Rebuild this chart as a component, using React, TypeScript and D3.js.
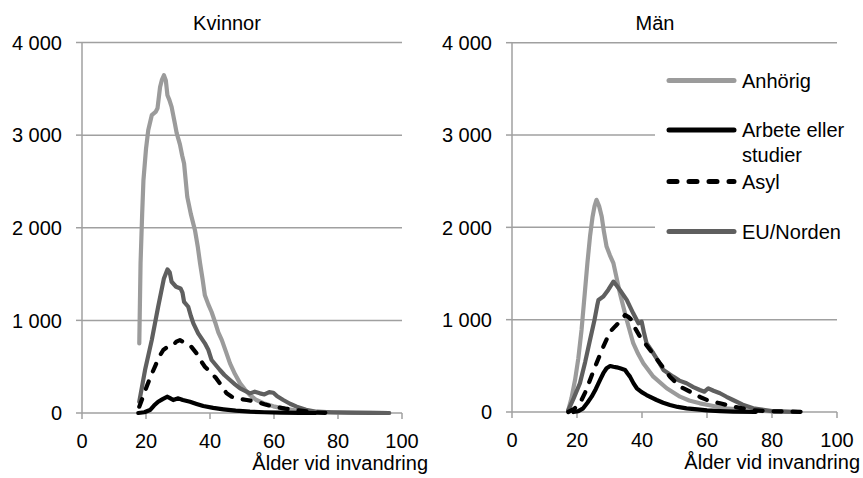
import React from "react";
import * as d3 from "d3";

type Pt = [number, number];

const yTicks = [0, 1000, 2000, 3000, 4000];
const xTicks = [0, 20, 40, 60, 80, 100];
const seriesNames = ["Anhörig", "Arbete eller studier", "Asyl", "EU/Norden"];

// Kvinnor
const womenAnhorig: Pt[] = [
  [17.9, 752], [18.3, 1618], [18.8, 2150], [19.2, 2513], [20.0, 2850], [20.7, 3053], [21.8, 3215], [23.0, 3250],
  [23.6, 3290], [24.4, 3520], [25.0, 3600], [25.6, 3646], [26.2, 3590], [26.7, 3430], [27.3, 3380], [28, 3305],
  [29.0, 3130], [29.6, 3020], [30.6, 2900], [31.3, 2780], [31.9, 2694], [32.9, 2333], [34.0, 2150], [35.3, 1974],
  [36.2, 1790], [36.9, 1615], [37.7, 1440], [38.4, 1270], [39.5, 1170], [40.5, 1090], [41.6, 980], [42.6, 870],
  [43.7, 787], [45.0, 660], [46.25, 536], [47.8, 420], [49.4, 320], [51.0, 250], [52.5, 194], [54.5, 140],
  [56.7, 105], [59.8, 72], [62.9, 50], [66.5, 30], [70.2, 14], [75, 6], [80, 3], [85, 2], [90, 1], [96, 0],
];
const womenArbete: Pt[] = [
  [17.6, 0], [19.5, 8], [21.25, 32], [22.5, 80], [23.8, 122], [25.2, 150], [26.7, 176], [27.5, 160], [28.5, 140],
  [30.1, 158], [31.5, 140], [33.75, 122], [35.8, 98], [37.9, 75], [41, 55], [44.2, 40], [48, 25], [52.5, 14],
  [57, 8], [62, 4], [68, 2], [73, 0],
];
const womenAsyl: Pt[] = [
  [17.9, 68], [19.0, 170], [20.2, 284], [21.5, 400], [22.8, 500], [24.0, 600], [25.4, 680], [27.0, 720], [28.5, 733],
  [29.5, 770], [30.6, 787], [32.0, 760], [33.75, 733], [35.8, 644], [37.0, 570], [38.4, 500], [40.5, 428],
  [41.8, 380], [43.1, 320], [45.2, 212], [46.8, 175], [48.3, 158], [51.5, 140], [54.6, 122], [57.0, 95],
  [59.8, 68], [63.5, 48], [67.1, 32], [73.3, 5], [78, 0],
];
const womenEU: Pt[] = [
  [17.9, 122], [19.7, 464], [21.8, 787], [23.8, 1147], [25.6, 1453], [26.7, 1550], [27.4, 1520], [28, 1417],
  [29.4, 1363], [30.8, 1345], [31.4, 1300], [31.9, 1200], [33.2, 1147], [34.0, 1050], [34.8, 968], [36.3, 860],
  [38.4, 752], [39.5, 680], [40.5, 572], [43.1, 464], [44.5, 410], [46.25, 356], [47.8, 310], [49.4, 266],
  [52.5, 212], [54.0, 230], [55.6, 212], [57.0, 200], [58.5, 225], [59.8, 219], [61.0, 180], [62.9, 140],
  [65.0, 100], [67.1, 68], [70, 35], [73.3, 14], [78, 8], [84, 4], [90, 2], [96, 0],
];

// Män
const menAnhorig: Pt[] = [
  [17.3, 18], [18.3, 150], [19.4, 347], [20.4, 580], [21.4, 889], [22.3, 1250], [23.2, 1612], [24.0, 1900],
  [24.8, 2117], [25.4, 2230], [26, 2298], [26.8, 2230], [27.6, 2117], [28.3, 1950], [29.1, 1792], [30.1, 1700],
  [31.2, 1612], [32.2, 1450], [33.2, 1287], [35.3, 997], [37.3, 745], [38.8, 630], [40.4, 528], [43.5, 383],
  [47.6, 257], [51.7, 166], [54.5, 125], [57.8, 94], [62, 65], [66, 40], [70, 25], [74, 15], [80, 7], [88, 0],
];
const menArbete: Pt[] = [
  [18.9, 0], [20.4, 10], [21.9, 40], [23.2, 100], [24.5, 166], [25.8, 250], [27.1, 347], [28.1, 420],
  [29.1, 474], [30.2, 498], [31.2, 490], [32.2, 484], [33.5, 470], [34.8, 455], [35.5, 420], [36.3, 383],
  [37.4, 310], [38.4, 257], [39.9, 215], [41.4, 184], [44.5, 130], [46.5, 100], [48.6, 76], [51, 55],
  [53.7, 40], [57, 28], [60, 18], [64, 10], [68, 5], [75, 0],
];
const menAsyl: Pt[] = [
  [17.3, 0], [19.0, 30], [20.9, 94], [22.5, 210], [24, 347], [26, 528], [28.1, 708], [30.2, 870], [31.8, 930],
  [33.2, 979], [34.8, 1051], [35.8, 1030], [36.8, 997], [38.0, 900], [39.4, 816], [42.5, 672], [45.5, 528],
  [48.6, 383], [51.7, 274], [55.8, 203], [58.0, 160], [60, 130], [64, 94], [68.1, 58], [74.2, 18], [80, 8],
  [86, 4], [92, 0],
];
const menEU: Pt[] = [
  [17.3, 18], [19.0, 150], [20.9, 311], [22.5, 540], [24, 780], [25.4, 1000], [26.2, 1150], [26.6, 1214],
  [28.1, 1250], [29.6, 1322], [31.2, 1412], [32.2, 1370], [33.2, 1322], [35.3, 1214], [37.3, 1069],
  [38.9, 961], [39.9, 979], [40.6, 860], [41.4, 745], [43.5, 636], [45.0, 550], [46.6, 455], [49.6, 383],
  [51.5, 340], [53.7, 311], [55.8, 270], [57.8, 238], [59.2, 220], [60.4, 257], [62.0, 230], [64, 203],
  [66, 165], [68, 130], [71, 80], [74.2, 40], [80, 10], [84, 5], [88, 0],
];

const colors = ["#9b9b9b", "#000000", "#000000", "#5f5f5f"];
const dashes = ["", "", "8,11", ""];

const FONT = "Liberation Sans, Arial, sans-serif";
const GRID = "#a0a0a0";

function Panel({
  title, titleX, x0, x1, y0, y1, data, labelRight, legend,
}: {
  title: string; titleX: number; x0: number; x1: number; y0: number; y1: number;
  data: Pt[][]; labelRight: number; legend: boolean;
}) {
  const x = d3.scaleLinear().domain([0, 100]).range([x0, x1]);
  const y = d3.scaleLinear().domain([0, 4000]).range([y0, y1]);
  const line = d3.line<Pt>().x((d) => x(d[0])).y((d) => y(d[1])).curve(d3.curveLinear);
  return (
    <g>
      {yTicks.map((t) => (
        <g key={t}>
          {t > 0 && <line x1={x0} x2={x1} y1={y(t)} y2={y(t)} stroke={GRID} strokeWidth={1.5} />}
          <line x1={x0 - 6} x2={x0} y1={y(t)} y2={y(t)} stroke={GRID} strokeWidth={1.5} />
          <text x={x0 - 20} y={y(t)} dy="0.36em" textAnchor="end" fontSize={20} fontFamily={FONT} fill="#000">
            {d3.format(",")(t).replace(/,/g, " ")}
          </text>
        </g>
      ))}
      <line x1={x0} x2={x0} y1={y0} y2={y1} stroke={GRID} strokeWidth={1.5} />
      <line x1={x0} x2={x1} y1={y0} y2={y0} stroke={GRID} strokeWidth={1.5} />
      {xTicks.map((t) => (
        <g key={t}>
          <line x1={x(t)} x2={x(t)} y1={y0} y2={y0 + 6} stroke={GRID} strokeWidth={1.5} />
          <text x={x(t)} y={y0 + 35} textAnchor="middle" fontSize={20} fontFamily={FONT} fill="#000">{t}</text>
        </g>
      ))}
      <text x={titleX} y={30} textAnchor="middle" fontSize={20} fontFamily={FONT} fill="#000">{title}</text>
      <text x={labelRight} y={y0 + 57} textAnchor="end" fontSize={20} fontFamily={FONT} fill="#000">Ålder vid invandring</text>
      {legend && <rect x={655} y={55} width={210} height={195} fill="#fff" />}
      {[0, 3, 2, 1].map((i) => (
        <path key={i} d={line(data[i]) || ""} fill="none" stroke={colors[i]} strokeWidth={4.2}
          strokeDasharray={dashes[i] || undefined} strokeLinecap="round" strokeLinejoin="round" />
      ))}
    </g>
  );
}

function Legend() {
  const rowsY = [80.5, 130, 181.5, 231.5];
  return (
    <g>
      {seriesNames.map((name, i) => (
        <g key={name}>
          <line x1={669} x2={734} y1={rowsY[i]} y2={rowsY[i]} stroke={colors[i]} strokeWidth={5}
            strokeDasharray={dashes[i] ? "8,12" : undefined} strokeLinecap="round" />
          {name === "Arbete eller studier" ? (
            <text x={742} y={rowsY[i]} dy="0.36em" fontSize={20} fontFamily={FONT} fill="#000">
              <tspan x={742}>Arbete eller</tspan>
              <tspan x={742} dy={25}>studier</tspan>
            </text>
          ) : (
            <text x={742} y={rowsY[i]} dy="0.36em" fontSize={20} fontFamily={FONT} fill="#000">{name}</text>
          )}
        </g>
      ))}
    </g>
  );
}

export default function App() {
  return (
    <svg width={863} height={478} style={{ position: "absolute", left: 0, top: 0, background: "#fff" }}>
      <Panel title="Kvinnor" titleX={227} x0={82} x1={402} y0={413} y1={42.5}
        data={[womenAnhorig, womenArbete, womenAsyl, womenEU]} labelRight={428} legend={false} />
      <Panel title="Män" titleX={655} x0={512} x1={837} y0={412} y1={42.7}
        data={[menAnhorig, menArbete, menAsyl, menEU]} labelRight={860} legend={true} />
      <Legend />
    </svg>
  );
}
